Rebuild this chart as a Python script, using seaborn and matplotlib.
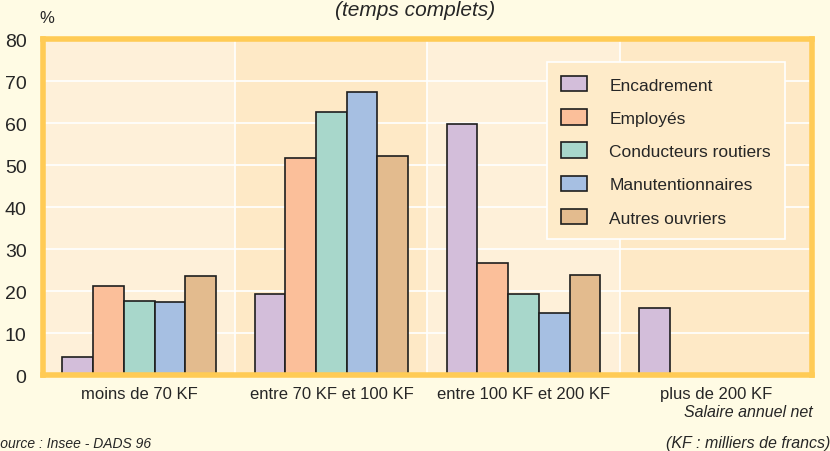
import numpy as np
import pandas as pd
import seaborn as sns
import matplotlib.pyplot as plt
from matplotlib import font_manager

# Data (% of employees, full time)
tranches = ['moins de 70 KF', 'entre 70 KF et 100 KF', 'entre 100 KF et 200 KF', 'plus de 200 KF']
categories = ['Encadrement', 'Employés', 'Conducteurs routiers', 'Manutentionnaires', 'Autres ouvriers']
encadrement = [4.4, 19.3, 59.9, 16.0]
employes = [21.2, 51.7, 26.7, np.nan]
conducteurs = [17.6, 62.6, 19.4, np.nan]
manutention = [17.5, 67.5, 14.9, np.nan]
autres = [23.6, 52.2, 23.9, np.nan]

colors = ['#D3BEDA', '#FBBF9A', '#A8D7CB', '#A6BFE2', '#E3BB8E']

rows = []
for cat, vals in zip(categories, [encadrement, employes, conducteurs, manutention, autres]):
    for t, v in zip(tranches, vals):
        rows.append({'tranche': t, 'categorie': cat, 'pct': v})
df = pd.DataFrame(rows)

sns.set_theme(style='white')
names = {f.name for f in font_manager.fontManager.ttflist}
main_font = 'Liberation Sans Narrow' if 'Liberation Sans Narrow' in names else 'Liberation Sans'
plt.rcParams['font.family'] = [main_font, 'DejaVu Sans']

fig = plt.figure(figsize=(8.3, 4.52), dpi=100)
fig.patch.set_facecolor('#FFFBE4')
ax = fig.add_axes([0.052, 0.168, 0.926, 0.743])
ax.set_facecolor('#FEF0D9')

# alternating bands behind each salary bracket
for i in range(len(tranches)):
    ax.axvspan(i - 0.5, i + 0.5, color='#FEF0D9' if i % 2 == 0 else '#FEE9C6', zorder=0, lw=0)
for y in range(10, 80, 10):
    ax.axhline(y, color='white', lw=1.2, zorder=0.5)
for i in range(1, len(tranches)):
    ax.axvline(i - 0.5, color='white', lw=1.2, zorder=0.5)

sns.barplot(data=df, x='tranche', y='pct', hue='categorie', hue_order=categories,
            palette=colors, width=0.8, edgecolor='#1E1E1E', linewidth=1.2,
            saturation=1, ax=ax, zorder=2)

ax.set_xlim(-0.5, 3.5)
ax.set_ylim(0, 80)
ax.set_yticks(range(0, 81, 10))
ax.tick_params(axis='y', length=0, pad=12, labelsize=14)
ax.tick_params(axis='x', length=0, pad=8, labelsize=12)
ax.set_xlabel('')
ax.set_ylabel('')
for s in ax.spines.values():
    s.set_color('#FFCB55')
    s.set_linewidth(4)
    s.set_zorder(5)

leg = ax.legend(loc='upper right', bbox_to_anchor=(0.965, 0.932), fontsize=12.5,
                frameon=True, fancybox=False, facecolor='#FEEBC9', edgecolor='white',
                handlelength=1.5, handleheight=1.0, handletextpad=1.3,
                labelspacing=0.95, borderpad=0.8, borderaxespad=0)
leg.get_frame().set_linewidth(1.2)
leg.get_frame().set_alpha(1)

fig.text(0.5, 0.977, '(temps complets)', ha='center', va='center', fontsize=15, style='italic')
fig.text(0.047, 0.958, '%', ha='left', va='center', fontsize=12)
fig.text(0.979, 0.088, 'Salaire annuel net', ha='right', va='center', fontsize=11.5, style='italic')
fig.text(1.0, 0.018, '(KF : milliers de francs)', ha='right', va='center', fontsize=11.5, style='italic')
fig.text(-0.011, 0.018, 'Source : Insee - DADS 96', ha='left', va='center', fontsize=10, style='italic')

fig.savefig('out.png', dpi=100, facecolor=fig.get_facecolor())
